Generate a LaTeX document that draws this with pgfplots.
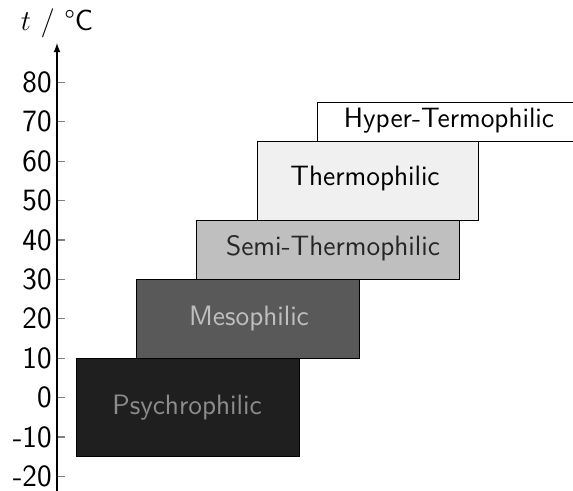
\documentclass[border=0pt]{standalone}
\usepackage{fontspec}
\usepackage{pgfplots}
\pgfplotsset{compat=1.18}
\renewcommand{\familydefault}{\sfdefault}
\begin{document}
\sffamily
\begin{tikzpicture}
\begin{axis}[
  name=ax,
  scale only axis, width=258pt, height=223.8pt,
  xmin=0, xmax=516, ymin=-23.6, ymax=90,
  axis x line=none, axis y line=left,
  y axis line style={-latex, line width=0.6pt},
  ytick={-20,-10,0,10,20,30,40,50,60,70,80},
  yticklabels={-20,-10,0,10,20,30,40,50,60,70,80},
  tick align=inside, major tick length=4pt,
  ytick style={line width=0.6pt},
  yticklabel style={font=\fontsize{15.5}{17}\selectfont, inner sep=2.5pt},
]
\addplot[draw=black, fill=black!88] coordinates {(19,-15) (242,-15) (242,10) (19,10) (19,-15)} -- cycle;
\addplot[draw=black, fill=black!65] coordinates {(79,10) (302,10) (302,30) (79,30) (79,10)} -- cycle;
\addplot[draw=black, fill=black!25] coordinates {(139,30) (402,30) (402,45) (139,45) (139,30)} -- cycle;
\addplot[draw=black, fill=black!6] coordinates {(200,45) (421,45) (421,65) (200,65) (200,45)} -- cycle;
\addplot[draw=black, fill=white] coordinates {(260,65) (530,65) (530,75) (260,75) (260,65)} -- cycle;
\node[text=black!45, font=\fontsize{14}{16}\selectfont] at (axis cs:130,-2.5) {Psychrophilic};
\node[text=black!25, font=\fontsize{14}{16}\selectfont] at (axis cs:192,20) {Mesophilic};
\node[text=black!85, font=\fontsize{14}{16}\selectfont] at (axis cs:276,38) {Semi-Thermophilic};
\node[text=black, font=\fontsize{14}{16}\selectfont] at (axis cs:308,55.5) {Thermophilic};
\node[text=black, font=\fontsize{14}{16}\selectfont] at (axis cs:392,70.3) {Hyper-Termophilic};
\end{axis}
\node[anchor=base, font=\fontsize{14.5}{16}\selectfont] at ([yshift=6pt]ax.north west) {$t$ / °C};
\pgfresetboundingbox
\useasboundingbox ([xshift=-28.5pt]ax.south west) rectangle ([yshift=21.5pt]ax.north east);
\end{tikzpicture}
\end{document}
